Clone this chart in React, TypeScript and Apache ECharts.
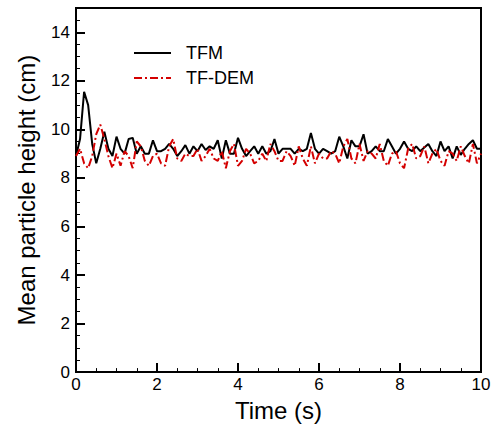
import React, { useEffect, useRef } from 'react';
import * as echarts from 'echarts';

// time step 0.1 s, 0..10 s
const times: number[] = Array.from({ length: 101 }, (_, i) => +(i * 0.1).toFixed(1));

const tfm: number[] = [
  8.9, 9.6, 11.55, 11.0, 9.4, 8.6, 9.2, 9.9, 9.2, 8.9,
  9.7, 9.2, 9.0, 9.6, 9.65, 9.0, 9.3, 9.0, 9.0, 9.55,
  9.1, 9.1, 9.2, 9.4, 9.2, 8.9, 9.1, 9.35, 9.0, 9.3,
  9.1, 9.4, 9.15, 9.3, 9.2, 9.55, 8.8, 9.55, 9.0, 9.0,
  9.65, 9.2, 8.9, 9.1, 9.3, 9.0, 9.3, 9.0, 9.1, 9.6,
  9.0, 9.2, 9.2, 9.2, 9.0, 9.2, 9.1, 9.2, 9.85, 9.2,
  9.0, 9.2, 9.1, 9.0, 9.1, 9.7, 9.3, 8.8, 9.55, 9.3,
  9.3, 9.8, 9.0, 9.1, 9.3, 9.1, 9.1, 9.6, 9.3, 9.0,
  9.2, 9.5, 9.2, 9.1, 9.3, 9.1, 9.25, 9.4, 9.1, 8.9,
  9.5, 9.1, 9.3, 8.8, 9.3, 8.95, 9.2, 9.4, 9.55, 9.2,
  9.2,
];

const tfDem: number[] = [
  8.9, 9.2, 8.6, 8.4, 8.9, 9.8, 10.2, 9.6, 8.9, 8.4,
  9.0, 8.5, 9.1, 8.9, 8.4, 9.5, 9.3, 8.7, 8.5, 8.9,
  9.0, 8.6, 8.5, 9.3, 9.6, 8.8, 8.7, 9.0, 8.9, 8.9,
  9.2, 8.7, 8.9, 9.2, 8.8, 8.7, 9.1, 8.4, 9.1, 9.4,
  8.5, 8.7, 9.2, 9.0, 8.6, 8.7, 9.0, 8.7, 9.4, 9.1,
  8.7, 8.7, 9.1, 8.9, 8.5, 9.3, 8.8, 8.5, 9.3, 8.6,
  9.0, 8.8, 8.8, 9.1, 9.0, 8.6, 9.3, 9.6, 8.8, 8.6,
  9.4, 8.7, 9.1, 9.0, 8.8, 9.4, 8.7, 8.5, 9.0, 9.1,
  8.6, 8.4, 9.2, 9.4, 8.8, 8.9, 9.3, 8.6, 9.0, 9.2,
  8.7, 8.5, 9.1, 9.0, 8.7, 9.3, 8.9, 8.6, 9.4, 8.6,
  9.0,
];

const FONT = '"Liberation Sans", Arial, sans-serif';

const App: React.FC = () => {
  const chartRef = useRef<HTMLDivElement>(null);

  useEffect(() => {
    if (!chartRef.current) return;
    const chart = echarts.init(chartRef.current, undefined, { renderer: 'svg' });

    const pair = (ys: number[]) => times.map((t, i) => [t, ys[i]]);

    chart.setOption({
      animation: false,
      textStyle: { fontFamily: FONT, color: '#000' },
      grid: {
        left: 76,
        right: 13,
        top: 8,
        bottom: 50,
        show: true,
        borderColor: '#000',
        borderWidth: 2,
        backgroundColor: 'transparent',
      },
      legend: {
        orient: 'vertical',
        left: 128,
        top: 39,
        itemWidth: 37,
        itemHeight: 12,
        itemGap: 7,
        itemStyle: { opacity: 0 },
        textStyle: { fontSize: 18, fontFamily: FONT, color: '#000', padding: [0, 0, 0, 10] },
        data: ['TFM', 'TF-DEM'],
      },
      xAxis: [
        {
          type: 'value',
          min: 0,
          max: 10,
          interval: 2,
          name: 'Time (s)',
          nameLocation: 'middle',
          nameGap: 21,
          nameTextStyle: { fontSize: 24, fontFamily: FONT, color: '#000' },
          axisLine: { show: true, lineStyle: { color: '#000', width: 2 } },
          axisTick: { inside: true, length: 9, lineStyle: { color: '#000', width: 2 } },
          axisLabel: { fontSize: 17, color: '#000', margin: 4 },
          splitLine: { show: false },
        },
        {
          type: 'value',
          min: 0,
          max: 10,
          interval: 0.5,
          position: 'bottom',
          axisLine: { show: false },
          axisTick: { inside: true, length: 4, lineStyle: { color: '#000', width: 1 } },
          axisLabel: { show: false },
          splitLine: { show: false },
        },
      ],
      yAxis: [
        {
          type: 'value',
          min: 0,
          max: 15,
          interval: 2,
          name: 'Mean particle height (cm)',
          nameLocation: 'middle',
          nameGap: 38,
          nameTextStyle: { fontSize: 24, fontFamily: FONT, color: '#000' },
          axisLine: { show: true, lineStyle: { color: '#000', width: 2 } },
          axisTick: { inside: true, length: 9, lineStyle: { color: '#000', width: 2 } },
          axisLabel: {
            fontSize: 17,
            color: '#000',
            margin: 6,
            formatter: (v: number) => (v % 2 === 0 ? String(v) : ''),
          },
          splitLine: { show: false },
        },
        {
          type: 'value',
          min: 0,
          max: 15,
          interval: 0.5,
          position: 'left',
          axisLine: { show: false },
          axisTick: { inside: true, length: 4, lineStyle: { color: '#000', width: 1 } },
          axisLabel: { show: false },
          splitLine: { show: false },
        },
      ],
      series: [
        {
          name: 'TFM',
          type: 'line',
          xAxisIndex: 0,
          yAxisIndex: 0,
          symbol: 'none',
          lineStyle: { color: '#000', width: 2 },
          itemStyle: { color: '#000' },
          data: pair(tfm),
        },
        {
          name: 'TF-DEM',
          type: 'line',
          xAxisIndex: 0,
          yAxisIndex: 0,
          symbol: 'none',
          lineStyle: { color: '#d40000', width: 2, type: [8, 3, 2, 3] },
          itemStyle: { color: '#d40000' },
          data: pair(tfDem),
        },
      ],
    });

    return () => {
      chart.dispose();
    };
  }, []);

  return (
    <div
      ref={chartRef}
      style={{ position: 'fixed', left: 0, top: 0, width: 494, height: 427, background: '#fff' }}
    />
  );
};

export default App;
